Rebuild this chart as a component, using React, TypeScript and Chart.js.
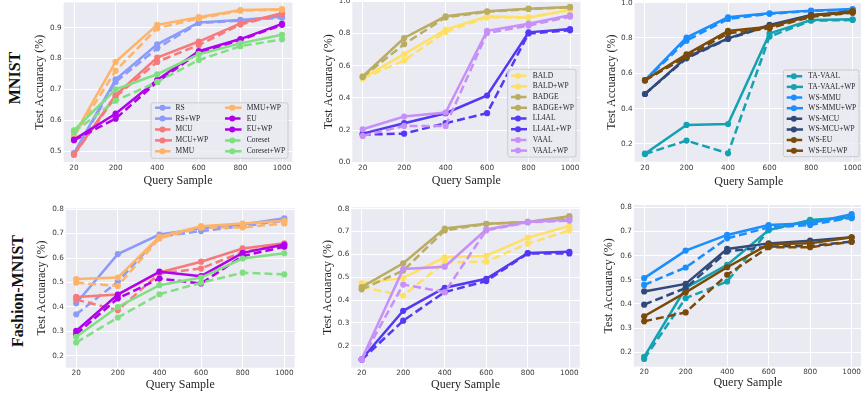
import React, { useEffect, useRef } from 'react';
import { Chart, registerables } from 'chart.js';

Chart.register(...registerables);

// ---------- data ----------
const querySamples = ['20', '200', '400', '600', '800', '1000'];

// MNIST (left)
const mnistRS = [0.491, 0.724, 0.833, 0.915, 0.923, 0.932];
const mnistRSWP = [0.493, 0.732, 0.846, 0.917, 0.925, 0.936];
const mnistMCU = [0.488, 0.676, 0.789, 0.844, 0.91, 0.944];
const mnistMCUWP = [0.489, 0.681, 0.803, 0.855, 0.914, 0.947];
const mnistMMU = [0.548, 0.76, 0.898, 0.93, 0.955, 0.958];
const mnistMMUWP = [0.552, 0.789, 0.909, 0.934, 0.957, 0.96];
const mnistEU = [0.535, 0.605, 0.724, 0.819, 0.86, 0.909];
const mnistEUWP = [0.537, 0.621, 0.73, 0.824, 0.863, 0.912];
const mnistCoreset = [0.562, 0.663, 0.724, 0.795, 0.84, 0.862];
const mnistCoresetWP = [0.567, 0.7, 0.749, 0.814, 0.849, 0.877];

// MNIST (middle)
const mnistBALD = [0.52, 0.633, 0.81, 0.9, 0.898, 0.945];
const mnistBALDWP = [0.523, 0.672, 0.824, 0.907, 0.9, 0.948];
const mnistBADGE = [0.53, 0.734, 0.9, 0.935, 0.952, 0.962];
const mnistBADGEWP = [0.533, 0.772, 0.907, 0.938, 0.954, 0.965];
const mnistLL4AL = [0.172, 0.178, 0.243, 0.305, 0.8, 0.82];
const mnistLL4ALWP = [0.178, 0.243, 0.305, 0.415, 0.807, 0.828];
const mnistVAAL = [0.164, 0.226, 0.226, 0.803, 0.849, 0.905];
const mnistVAALWP = [0.205, 0.284, 0.309, 0.817, 0.861, 0.913];

// MNIST (right)
const mnistTAVAAL = [0.143, 0.219, 0.147, 0.808, 0.898, 0.902];
const mnistTAVAALWP = [0.145, 0.308, 0.313, 0.826, 0.902, 0.906];
const mnistWSMMU = [0.56, 0.785, 0.908, 0.937, 0.953, 0.96];
const mnistWSMMUWP = [0.562, 0.802, 0.917, 0.94, 0.955, 0.964];
const mnistWSMCU = [0.483, 0.685, 0.795, 0.87, 0.928, 0.945];
const mnistWSMCUWP = [0.483, 0.69, 0.798, 0.874, 0.93, 0.949];
const mnistWSEU = [0.56, 0.694, 0.826, 0.855, 0.92, 0.943];
const mnistWSEUWP = [0.562, 0.707, 0.84, 0.864, 0.925, 0.953];

// Fashion-MNIST (left)
const fmRS = [0.37, 0.503, 0.687, 0.71, 0.73, 0.752];
const fmRSWP = [0.415, 0.616, 0.696, 0.721, 0.737, 0.762];
const fmMCU = [0.43, 0.387, 0.537, 0.557, 0.625, 0.653];
const fmMCUWP = [0.441, 0.451, 0.541, 0.585, 0.639, 0.66];
const fmMMU = [0.499, 0.486, 0.68, 0.724, 0.725, 0.741];
const fmMMUWP = [0.514, 0.52, 0.687, 0.73, 0.741, 0.752];
const fmEU = [0.289, 0.435, 0.516, 0.496, 0.608, 0.646];
const fmEUWP = [0.302, 0.451, 0.544, 0.526, 0.621, 0.655];
const fmCoreset = [0.255, 0.357, 0.452, 0.499, 0.54, 0.533];
const fmCoresetWP = [0.278, 0.4, 0.489, 0.52, 0.598, 0.619];

// Fashion-MNIST (middle)
const fmBALD = [0.457, 0.42, 0.565, 0.568, 0.647, 0.705];
const fmBALDWP = [0.474, 0.497, 0.587, 0.594, 0.673, 0.724];
const fmBADGE = [0.447, 0.529, 0.705, 0.733, 0.742, 0.762];
const fmBADGEWP = [0.457, 0.561, 0.713, 0.734, 0.742, 0.767];
const fmLL4AL = [0.139, 0.31, 0.435, 0.483, 0.604, 0.604];
const fmLL4ALWP = [0.141, 0.353, 0.454, 0.493, 0.606, 0.611];
const fmVAAL = [0.139, 0.468, 0.435, 0.705, 0.74, 0.748];
const fmVAALWP = [0.141, 0.536, 0.546, 0.709, 0.742, 0.752];

// Fashion-MNIST (right)
const fmTAVAAL = [0.172, 0.424, 0.493, 0.706, 0.745, 0.755];
const fmTAVAALWP = [0.181, 0.466, 0.562, 0.706, 0.748, 0.759];
const fmWSMMU = [0.479, 0.551, 0.672, 0.717, 0.727, 0.759];
const fmWSMMUWP = [0.507, 0.621, 0.686, 0.727, 0.734, 0.772];
const fmWSMCU = [0.397, 0.466, 0.617, 0.638, 0.64, 0.658];
const fmWSMCUWP = [0.452, 0.483, 0.628, 0.651, 0.662, 0.676];
const fmWSEU = [0.328, 0.365, 0.521, 0.635, 0.635, 0.658];
const fmWSEUWP = [0.349, 0.448, 0.552, 0.647, 0.651, 0.676];

const ticksTop1 = [0.5, 0.6, 0.7, 0.8, 0.9];
const ticksTop2 = [0.0, 0.2, 0.4, 0.6, 0.8, 1.0];
const ticksTop3 = [0.2, 0.4, 0.6, 0.8, 1.0];
const ticksBottom = [0.2, 0.3, 0.4, 0.5, 0.6, 0.7, 0.8];

// ---------- styles ----------
const C = {
  RS: '#8c9bfa',
  MCU: '#f67a7a',
  MMU: '#fdb468',
  EU: '#b000ec',
  Coreset: '#80df80',
  BALD: '#ffe066',
  BADGE: '#b8ad62',
  LL4AL: '#5338f4',
  VAAL: '#c790f8',
  TAVAAL: '#14a2b2',
  WSMMU: '#1a8eff',
  WSMCU: '#2f4a7a',
  WSEU: '#7a4a08',
};

type Series = { label: string; data: number[]; color: string; dashed: boolean };

const s = (label: string, data: number[], color: string, dashed: boolean): Series => ({ label, data, color, dashed });

const seriesA1: Series[] = [
  s('RS', mnistRS, C.RS, true), s('RS+WP', mnistRSWP, C.RS, false),
  s('MCU', mnistMCU, C.MCU, true), s('MCU+WP', mnistMCUWP, C.MCU, false),
  s('MMU', mnistMMU, C.MMU, true), s('MMU+WP', mnistMMUWP, C.MMU, false),
  s('EU', mnistEU, C.EU, true), s('EU+WP', mnistEUWP, C.EU, false),
  s('Coreset', mnistCoreset, C.Coreset, true), s('Coreset+WP', mnistCoresetWP, C.Coreset, false),
];
const seriesA2: Series[] = [
  s('BALD', mnistBALD, C.BALD, true), s('BALD+WP', mnistBALDWP, C.BALD, false),
  s('BADGE', mnistBADGE, C.BADGE, true), s('BADGE+WP', mnistBADGEWP, C.BADGE, false),
  s('LL4AL', mnistLL4AL, C.LL4AL, true), s('LL4AL+WP', mnistLL4ALWP, C.LL4AL, false),
  s('VAAL', mnistVAAL, C.VAAL, true), s('VAAL+WP', mnistVAALWP, C.VAAL, false),
];
const seriesA3: Series[] = [
  s('TA-VAAL', mnistTAVAAL, C.TAVAAL, true), s('TA-VAAL+WP', mnistTAVAALWP, C.TAVAAL, false),
  s('WS-MMU', mnistWSMMU, C.WSMMU, true), s('WS-MMU+WP', mnistWSMMUWP, C.WSMMU, false),
  s('WS-MCU', mnistWSMCU, C.WSMCU, true), s('WS-MCU+WP', mnistWSMCUWP, C.WSMCU, false),
  s('WS-EU', mnistWSEU, C.WSEU, true), s('WS-EU+WP', mnistWSEUWP, C.WSEU, false),
];
const seriesB1: Series[] = [
  s('RS', fmRS, C.RS, true), s('RS+WP', fmRSWP, C.RS, false),
  s('MCU', fmMCU, C.MCU, true), s('MCU+WP', fmMCUWP, C.MCU, false),
  s('MMU', fmMMU, C.MMU, true), s('MMU+WP', fmMMUWP, C.MMU, false),
  s('EU', fmEU, C.EU, true), s('EU+WP', fmEUWP, C.EU, false),
  s('Coreset', fmCoreset, C.Coreset, true), s('Coreset+WP', fmCoresetWP, C.Coreset, false),
];
const seriesB2: Series[] = [
  s('BALD', fmBALD, C.BALD, true), s('BALD+WP', fmBALDWP, C.BALD, false),
  s('BADGE', fmBADGE, C.BADGE, true), s('BADGE+WP', fmBADGEWP, C.BADGE, false),
  s('LL4AL', fmLL4AL, C.LL4AL, true), s('LL4AL+WP', fmLL4ALWP, C.LL4AL, false),
  s('VAAL', fmVAAL, C.VAAL, true), s('VAAL+WP', fmVAALWP, C.VAAL, false),
];
const seriesB3: Series[] = [
  s('TA-VAAL', fmTAVAAL, C.TAVAAL, true), s('TA-VAAL+WP', fmTAVAALWP, C.TAVAAL, false),
  s('WS-MMU', fmWSMMU, C.WSMMU, true), s('WS-MMU+WP', fmWSMMUWP, C.WSMMU, false),
  s('WS-MCU', fmWSMCU, C.WSMCU, true), s('WS-MCU+WP', fmWSMCUWP, C.WSMCU, false),
  s('WS-EU', fmWSEU, C.WSEU, true), s('WS-EU+WP', fmWSEUWP, C.WSEU, false),
];

type LegendSpec = {
  box: [number, number, number, number];
  cols: { hx0: number; hx1: number; tx: number; rows: number[]; items: number[] }[];
};

type Panel = {
  series: Series[];
  canvas: [number, number, number, number]; // page x, y, w, h
  plot: [number, number, number, number]; // page l, t, r, b
  yMin: number;
  yMax: number;
  yTicks: number[];
  titleX: number; // page x of y-title center
  titleY: number; // page y of x-title center
  tickPad: number;
  legend?: LegendSpec;
};

const rows5 = [107.7, 118.6, 129.5, 140.4, 151.3];
const rows8a = [75.7, 86.4, 97.1, 107.8, 118.5, 129.2, 139.9, 150.6];
const rows8b = [76.3, 86.9, 97.6, 108.2, 118.8, 129.5, 140.1, 150.7];

const panels: Panel[] = [
  {
    series: seriesA1, canvas: [32, -8, 268, 198], plot: [63.6, 2.5, 292.4, 162],
    yMin: 0.4645, yMax: 0.9815, yTicks: ticksTop1, titleX: 40, titleY: 180.5, tickPad: 1.8,
    legend: {
      box: [151, 102.8, 288, 158.3],
      cols: [
        { hx0: 155, hx1: 172, tx: 175.5, rows: rows5, items: [0, 1, 2, 3, 4] },
        { hx0: 225, hx1: 241.5, tx: 246.7, rows: rows5, items: [5, 6, 7, 8, 9] },
      ],
    },
  },
  {
    series: seriesA2, canvas: [321, -8, 267, 198], plot: [352.3, 1.3, 580.4, 162.3],
    yMin: 0, yMax: 1, yTicks: ticksTop2, titleX: 329, titleY: 180.5, tickPad: 1.5,
    legend: {
      box: [507.7, 69.3, 576, 157],
      cols: [{ hx0: 511, hx1: 527, tx: 532.7, rows: rows8a, items: [0, 1, 2, 3, 4, 5, 6, 7] }],
    },
  },
  {
    series: seriesA3, canvas: [604, -8, 268, 198], plot: [634.6, 2.5, 863, 161.8],
    yMin: 0.099, yMax: 1.001, yTicks: ticksTop3, titleX: 611.7, titleY: 181.5, tickPad: 2,
    legend: {
      box: [783.3, 70, 859, 156.7],
      cols: [{ hx0: 786.7, hx1: 803, tx: 808.3, rows: rows8b, items: [0, 1, 2, 3, 4, 5, 6, 7] }],
    },
  },
  {
    series: seriesB1, canvas: [34, 196, 268, 200], plot: [65.8, 208.3, 294.7, 367.7],
    yMin: 0.152, yMax: 0.803, yTicks: ticksBottom, titleX: 41.7, titleY: 385.3, tickPad: 1.2,
  },
  {
    series: seriesB2, canvas: [321, 196, 267, 200], plot: [351.3, 207.3, 579.7, 367.7],
    yMin: 0.104, yMax: 0.806, yTicks: ticksBottom, titleX: 328.3, titleY: 385, tickPad: 1.2,
  },
  {
    series: seriesB3, canvas: [602, 196, 270, 200], plot: [633.8, 205, 862, 366.7],
    yMin: 0.14, yMax: 0.81, yTicks: ticksBottom, titleX: 609.3, titleY: 382.7, tickPad: 1.5,
  },
];

const TICK_FONT = { family: '"DejaVu Sans", sans-serif', size: 7.3 };
const TITLE_FONT = { family: '"Liberation Serif", serif', size: 12 };
const TEXT_COLOR = '#262626';
const TICK_COLOR = '#3a3a3a';
const BG = '#eaeaf2';
const LINE_W = 2.5;
const DASH = [8, 4];

function ChartPanel({ p }: { p: Panel }) {
  const ref = useRef<HTMLCanvasElement | null>(null);
  useEffect(() => {
    const canvas = ref.current;
    if (!canvas) return;
    const [cx, cy, cw, ch] = p.canvas;
    const [l, t, r, b] = p.plot;
    const boxLeft = p.titleX - TITLE_FONT.size * 0.6;
    const boxBottom = p.titleY + TITLE_FONT.size * 0.6;
    const padL = boxLeft - cx;
    const wy = l - boxLeft;
    const padT = t - cy;
    const padR = cx + cw - r;
    const hx = boxBottom - b;
    const padB = cy + ch - boxBottom;

    const bgPlugin = {
      id: 'plotBg',
      beforeDraw(chart: any) {
        const a = chart.chartArea;
        const ctx = chart.ctx;
        ctx.save();
        ctx.fillStyle = BG;
        ctx.fillRect(a.left, a.top, a.right - a.left, a.bottom - a.top);
        ctx.restore();
      },
    };

    const legendPlugin = {
      id: 'sketchLegend',
      afterDraw(chart: any) {
        const spec = p.legend;
        if (!spec) return;
        const ctx = chart.ctx;
        ctx.save();
        ctx.translate(-cx, -cy);
        const [x0, y0, x1, y1] = spec.box;
        ctx.beginPath();
        const rr = 2;
        ctx.moveTo(x0 + rr, y0);
        ctx.lineTo(x1 - rr, y0);
        ctx.quadraticCurveTo(x1, y0, x1, y0 + rr);
        ctx.lineTo(x1, y1 - rr);
        ctx.quadraticCurveTo(x1, y1, x1 - rr, y1);
        ctx.lineTo(x0 + rr, y1);
        ctx.quadraticCurveTo(x0, y1, x0, y1 - rr);
        ctx.lineTo(x0, y0 + rr);
        ctx.quadraticCurveTo(x0, y0, x0 + rr, y0);
        ctx.closePath();
        ctx.fillStyle = 'rgba(234,234,242,0.8)';
        ctx.fill();
        ctx.strokeStyle = '#cccccc';
        ctx.lineWidth = 1;
        ctx.stroke();
        spec.cols.forEach((col) => {
          col.items.forEach((idx, k) => {
            const ser = p.series[idx];
            const y = col.rows[k];
            ctx.strokeStyle = ser.color;
            ctx.lineWidth = LINE_W;
            ctx.setLineDash(ser.dashed ? [6, 3.5] : []);
            ctx.beginPath();
            ctx.moveTo(col.hx0, y);
            ctx.lineTo(col.hx1, y);
            ctx.stroke();
            ctx.setLineDash([]);
            ctx.fillStyle = ser.color;
            ctx.beginPath();
            ctx.arc((col.hx0 + col.hx1) / 2 - 1, y, 3, 0, Math.PI * 2);
            ctx.fill();
            ctx.fillStyle = TEXT_COLOR;
            ctx.font = '7.5px "Liberation Serif", serif';
            ctx.textBaseline = 'middle';
            ctx.textAlign = 'left';
            ctx.fillText(ser.label, col.tx, y);
          });
        });
        ctx.restore();
      },
    };

    const n = p.series.length;
    const chart = new Chart(canvas, {
      type: 'line',
      data: {
        datasets: p.series.map((ser, i) => ({
          label: ser.label,
          data: ser.data.map((v, j) => ({ x: j, y: v })),
          borderColor: ser.color,
          backgroundColor: ser.color,
          pointBackgroundColor: ser.color,
          pointBorderWidth: 0,
          pointRadius: 3.1,
          borderWidth: LINE_W,
          borderDash: ser.dashed ? DASH : [],
          fill: false,
          tension: 0,
          order: -i,
        })),
      },
      options: {
        responsive: false,
        animation: false,
        devicePixelRatio: 1,
        events: [],
        layout: { padding: { left: padL, top: padT, right: padR, bottom: padB } },
        plugins: { legend: { display: false }, tooltip: { enabled: false }, title: { display: false } },
        scales: {
          x: {
            type: 'linear',
            min: -0.25,
            max: 5.25,
            afterBuildTicks: (sc: any) => {
              sc.ticks = querySamples.map((_, i) => ({ value: i }));
            },
            afterFit: (sc: any) => {
              sc.height = hx;
            },
            ticks: {
              callback: (v: any) => querySamples[Math.round(Number(v))] ?? '',
              font: TICK_FONT,
              color: TICK_COLOR,
              padding: p.tickPad,
              maxRotation: 0,
              autoSkip: false,
            },
            grid: { color: '#ffffff', lineWidth: 1, drawTicks: false },
            border: { display: false },
            title: { display: true, text: 'Query Sample', font: TITLE_FONT, color: TEXT_COLOR, padding: 0 },
          },
          y: {
            type: 'linear',
            min: p.yMin,
            max: p.yMax,
            afterBuildTicks: (sc: any) => {
              sc.ticks = p.yTicks.map((v) => ({ value: v }));
            },
            afterFit: (sc: any) => {
              sc.width = wy;
            },
            ticks: {
              callback: (v: any) => Number(v).toFixed(1),
              font: TICK_FONT,
              color: TICK_COLOR,
              padding: 2,
            },
            grid: { color: '#ffffff', lineWidth: 1, drawTicks: false },
            border: { display: false },
            title: { display: true, text: 'Test Accuaracy (%)', font: TITLE_FONT, color: TEXT_COLOR, padding: 0 },
          },
        },
      },
      plugins: [bgPlugin, legendPlugin],
    } as any);
    return () => chart.destroy();
  }, [p]);

  const [cx, cy, cw, ch] = p.canvas;
  return (
    <canvas
      ref={ref}
      width={cw}
      height={ch}
      style={{ position: 'absolute', left: cx, top: cy, width: cw, height: ch }}
    />
  );
}

const rowLabelStyle: React.CSSProperties = {
  position: 'absolute',
  transform: 'translate(-50%, -50%) rotate(-90deg)',
  whiteSpace: 'nowrap',
  font: 'bold 16px "Liberation Serif", serif',
  lineHeight: '16px',
  color: '#111',
};

export default function App() {
  return (
    <div
      style={{
        position: 'absolute',
        left: 0,
        top: 0,
        width: 861,
        height: 396,
        overflow: 'hidden',
        background: '#ffffff',
      }}
    >
      {panels.map((p, i) => (
        <ChartPanel key={i} p={p} />
      ))}
      <div style={{ ...rowLabelStyle, left: 15, top: 77.5 }}>MNIST</div>
      <div style={{ ...rowLabelStyle, left: 17.5, top: 291 }}>Fashion-MNIST</div>
    </div>
  );
}
